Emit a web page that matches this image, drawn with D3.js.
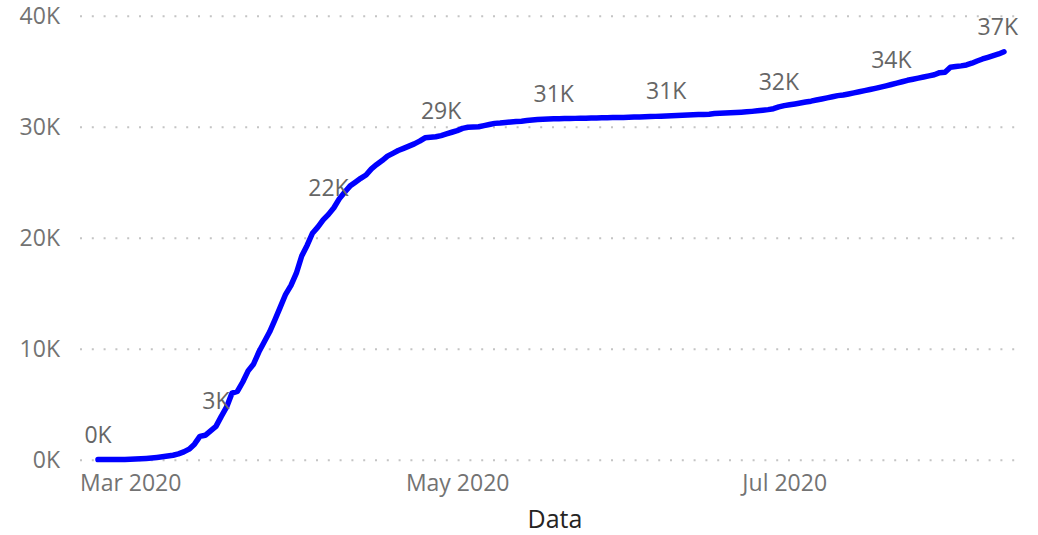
<!DOCTYPE html>
<html>
<head>
<meta charset="utf-8">
<script src="https://cdn.jsdelivr.net/npm/d3@7"></script>
<style>
  html, body { margin: 0; padding: 0; background: #fff; }
  svg { display: block; }
  text { font-family: "Segoe UI", "Open Sans", "Noto Sans", sans-serif; }
</style>
</head>
<body>
<svg id="chart" width="1038" height="535"></svg>
<script>
// First day of the daily series
const startDate = "2020-02-24";

// Cumulative daily totals, one value per day from the start date
const febTotals = [7, 10, 12, 17, 21, 29];
const marTotals = [40, 60, 80, 110, 150, 200, 260, 330, 400, 520,
  700, 950, 1400, 2100, 2200, 2600, 3000, 3900, 4750, 6000,
  6150, 7000, 8000, 8600, 9700, 10600, 11500, 12600, 13750, 14900, 15700];
const aprTotals = [16800, 18350, 19300, 20400, 20950, 21600, 22100, 22700, 23500, 24100,
  24650, 25000, 25350, 25650, 26200, 26600, 26950, 27350, 27600, 27850,
  28050, 28250, 28450, 28700, 29000, 29050, 29100, 29200, 29350, 29500];
const mayTotals = [29650, 29850, 29950, 29970, 30000, 30100, 30200, 30300, 30330, 30380,
  30420, 30470, 30500, 30550, 30600, 30650, 30670, 30690, 30710, 30720,
  30730, 30740, 30750, 30760, 30770, 30780, 30790, 30800, 30810, 30820, 30830];
const junTotals = [30840, 30850, 30870, 30880, 30900, 30910, 30930, 30950, 30970, 30990,
  31010, 31030, 31050, 31070, 31090, 31110, 31130, 31190, 31220, 31240,
  31260, 31280, 31310, 31340, 31380, 31430, 31480, 31540, 31620, 31780];
const julTotals = [31900, 31980, 32050, 32130, 32220, 32300, 32400, 32500, 32600, 32700,
  32800, 32860, 32950, 33050, 33150, 33250, 33350, 33450, 33560, 33680,
  33800, 33920, 34050, 34180, 34280, 34380, 34480, 34580, 34680, 34870, 34900];
const augTotals = [35350, 35420, 35480, 35560, 35720, 35920, 36100, 36250, 36400, 36550, 36750];

// Days that carry a value label
const labelDates = ["2020-02-24", "2020-03-17", "2020-04-07", "2020-04-28",
  "2020-05-19", "2020-06-09", "2020-06-30", "2020-07-21", "2020-08-11"];

// Axis ticks
const yTicks = [0, 10000, 20000, 30000, 40000];
const xTicks = ["2020-03-01", "2020-05-01", "2020-07-01"];
const xTitle = "Data";

const parse = d3.timeParse("%Y-%m-%d");
const totals = [].concat(febTotals, marTotals, aprTotals, mayTotals, junTotals, julTotals, augTotals);
const start = parse(startDate);
const series = totals.map((v, i) => ({ date: d3.timeDay.offset(start, i), value: v }));

const svg = d3.select("#chart");
const plot = { left: 80, right: 1018, top: 15.7, bottom: 459.7 };

const x = d3.scaleTime()
  .domain([series[0].date, series[series.length - 1].date])
  .range([98, 1004]);
const y = d3.scaleLinear()
  .domain([0, 40000])
  .range([plot.bottom, plot.top]);

const kFmt = v => Math.round(v / 1000) + "K";

// Horizontal dotted gridlines with the value axis labels
const yAxis = svg.append("g")
  .attr("transform", `translate(${plot.left},0)`)
  .call(d3.axisLeft(y)
    .tickValues(yTicks)
    .tickFormat(kFmt)
    .tickSizeInner(-(plot.right - plot.left))
    .tickSizeOuter(0)
    .tickPadding(20));
yAxis.select(".domain").remove();
yAxis.selectAll(".tick line")
  .attr("stroke", "#c4c4c4")
  .attr("stroke-width", 2)
  .attr("stroke-dasharray", "2 9.8");
yAxis.selectAll(".tick text")
  .attr("fill", "#737373")
  .style("font-size", "23px");

// Date axis
const xAxis = svg.append("g")
  .attr("transform", `translate(0,${plot.bottom})`)
  .call(d3.axisBottom(x)
    .tickValues(xTicks.map(parse))
    .tickFormat(d3.timeFormat("%b %Y"))
    .tickSize(0)
    .tickPadding(15));
xAxis.select(".domain").remove();
xAxis.selectAll(".tick text")
  .attr("fill", "#737373")
  .style("font-size", "23px");

svg.append("text")
  .attr("x", 555)
  .attr("y", 528)
  .attr("text-anchor", "middle")
  .attr("fill", "#252423")
  .style("font-size", "25px")
  .text(xTitle);

// The cumulative line
const line = d3.line()
  .x(d => x(d.date))
  .y(d => y(d.value));

svg.append("path")
  .datum(series)
  .attr("fill", "none")
  .attr("stroke", "#0000ff")
  .attr("stroke-width", 5.5)
  .attr("stroke-linejoin", "round")
  .attr("stroke-linecap", "round")
  .attr("d", line);

// Value labels above selected days, lifted where the line rises under them
// and kept inside the plot area
const byTime = new Map(series.map(d => [+d.date, d]));
const labelled = labelDates.map(s => byTime.get(+parse(s)));

const labels = svg.append("g");
labelled.forEach(d => {
  const t = labels.append("text")
    .attr("fill", "#666")
    .attr("text-anchor", "middle")
    .style("font-size", "23px")
    .text(kFmt(d.value));
  const w = t.node().getComputedTextLength();
  let cx = x(d.date);
  cx = Math.min(cx, plot.right - w / 2);
  let baseline = y(d.value) - 17;
  series.forEach(p => {
    const px = x(p.date);
    if (px >= cx - w / 2 && px <= cx + w / 2) {
      baseline = Math.min(baseline, y(p.value) + 4);
    }
  });
  t.attr("x", cx).attr("y", baseline);
});
</script>
</body>
</html>
